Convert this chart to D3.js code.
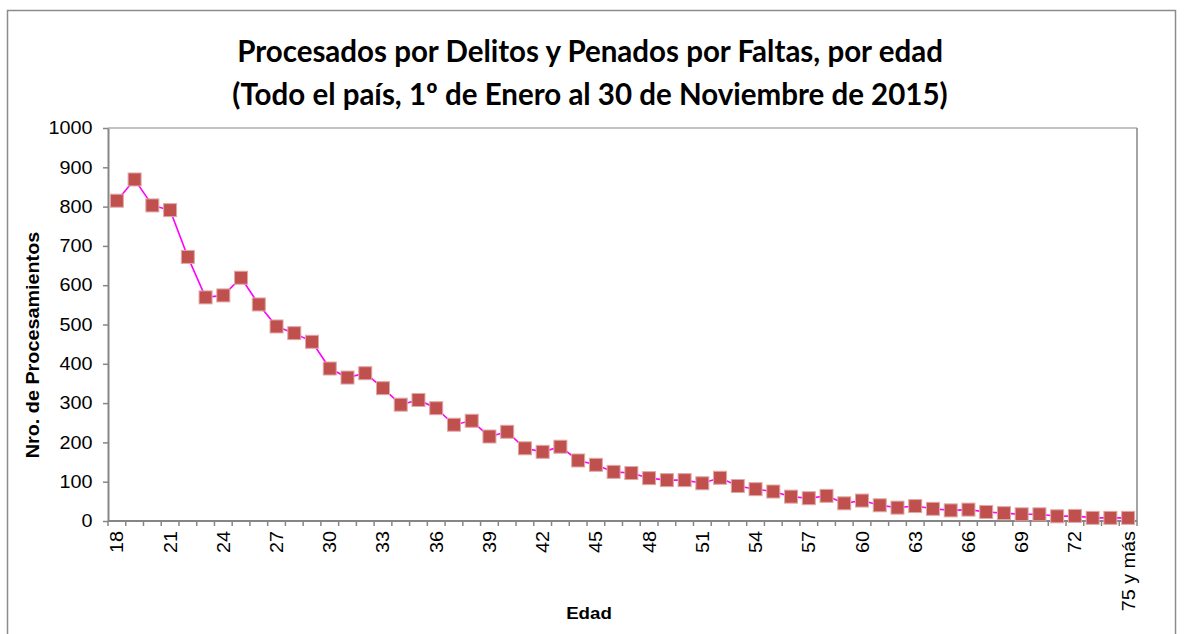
<!DOCTYPE html>
<html>
<head>
<meta charset="utf-8">
<script src="https://cdn.jsdelivr.net/npm/d3@7"></script>
<style>
  body { margin: 0; background: #fff; }
  svg { display: block; }
</style>
</head>
<body>
<div id="chart"></div>
<script>
const edades = ["18","19","20","21","22","23","24","25","26","27","28","29","30","31","32","33","34","35","36","37","38","39","40","41","42","43","44","45","46","47","48","49","50","51","52","53","54","55","56","57","58","59","60","61","62","63","64","65","66","67","68","69","70","71","72","73","74","75 y más"];
const procesados = [815,869,803,791,672,569,574,619,551,495,478,456,388,365,376,338,296,308,287,245,255,215,227,185,176,189,154,143,125,122,109,104,104,96,110,89,81,75,62,58,64,45,52,40,34,38,31,27,29,23,20,17,17,12,13,8,8,8];
const yTicks = [0,100,200,300,400,500,600,700,800,900,1000];
const xLabels = ["18","21","24","27","30","33","36","39","42","45","48","51","54","57","60","63","66","69","72","75 y más"];

const width = 1185, height = 634;
const axisColor = "#868686";
const lineColor = "#ff00ff";
const markerColor = "#c0504d";
const labelFont = '"Liberation Sans", Arial, sans-serif';
const stretch = 1.1; // reference text is a bit wider than Arial

const svg = d3.select('#chart').append('svg')
  .attr('width', width)
  .attr('height', height);

// outer frame
svg.append('rect')
  .attr('x', 7.5).attr('y', 10.5)
  .attr('width', 1168).attr('height', 640)
  .attr('fill', 'none')
  .attr('stroke', '#8c8c8c')
  .attr('stroke-width', 1.5);

const x = d3.scaleBand()
  .domain(edades)
  .range([108, 1137])
  .padding(0);

const y = d3.scaleLinear()
  .domain([0, 1000])
  .range([521, 128]);

// title
const title = svg.append('text')
  .attr('text-anchor', 'middle')
  .attr('font-family', 'Lato, "Open Sans", sans-serif')
  .attr('font-weight', 'bold')
  .attr('font-size', 29.5)
  .attr('fill', '#000');
title.append('tspan').attr('x', 590).attr('y', 62)
  .text('Procesados por Delitos y Penados por Faltas, por edad');
title.append('tspan').attr('x', 590).attr('y', 105)
  .text('(Todo el país, 1º de Enero al 30 de Noviembre de 2015)');

// y axis
const yAxis = svg.append('g')
  .attr('transform', `translate(${x.range()[0]},0)`)
  .call(d3.axisLeft(y).tickValues(yTicks).tickFormat(d3.format('d'))
    .tickSize(5).tickPadding(0).tickSizeOuter(0));
yAxis.select('.domain').attr('stroke', axisColor).attr('stroke-width', 2);
yAxis.selectAll('.tick line').attr('stroke', axisColor).attr('stroke-width', 1.5);
yAxis.selectAll('.tick text')
  .attr('x', -14)
  .attr('transform', `scale(${stretch},1)`)
  .attr('font-family', labelFont)
  .attr('font-size', 18)
  .attr('fill', '#000');

// x axis line
const x0 = x.range()[0], x1 = x.range()[1];
svg.append('line')
  .attr('x1', x0).attr('x2', x1)
  .attr('y1', y(0)).attr('y2', y(0))
  .attr('stroke', axisColor).attr('stroke-width', 2);

// right and top edges of the plot
svg.append('line')
  .attr('x1', x1).attr('x2', x1)
  .attr('y1', y(1000)).attr('y2', y(0))
  .attr('stroke', axisColor).attr('stroke-width', 1.5);
svg.append('line')
  .attr('x1', x0).attr('x2', x1)
  .attr('y1', y(1000)).attr('y2', y(1000))
  .attr('stroke', axisColor).attr('stroke-width', 1);

// x ticks at band boundaries
const bounds = edades.map(d => x(d)).concat([x1]);
svg.append('g').selectAll('line')
  .data(bounds)
  .join('line')
  .attr('x1', d => d).attr('x2', d => d)
  .attr('y1', y(0)).attr('y2', y(0) + 5)
  .attr('stroke', axisColor).attr('stroke-width', 1.5);

// x labels
svg.append('g').selectAll('text')
  .data(xLabels)
  .join('text')
  .attr('transform', d => `translate(${x(d) + x.bandwidth() / 2 + 6.5},${y(0) + 10}) rotate(-90) scale(${stretch},1)`)
  .attr('text-anchor', 'end')
  .attr('font-family', labelFont)
  .attr('font-size', 18)
  .attr('fill', '#000')
  .text(d => d);

// axis titles
svg.append('text')
  .attr('transform', `translate(39,345) rotate(-90) scale(${stretch},1)`)
  .attr('text-anchor', 'middle')
  .attr('font-family', labelFont)
  .attr('font-weight', 'bold')
  .attr('font-size', 18)
  .text('Nro. de Procesamientos');

svg.append('text')
  .attr('transform', `translate(589,619) scale(${stretch},1)`)
  .attr('text-anchor', 'middle')
  .attr('font-family', labelFont)
  .attr('font-weight', 'bold')
  .attr('font-size', 17)
  .text('Edad');

// line
const line = d3.line()
  .x((d, i) => x(edades[i]) + x.bandwidth() / 2)
  .y(d => y(d));

svg.append('path')
  .datum(procesados)
  .attr('d', line)
  .attr('fill', 'none')
  .attr('stroke', lineColor)
  .attr('stroke-width', 1.6);

// markers
const ms = 13;
svg.append('g').selectAll('rect')
  .data(procesados)
  .join('rect')
  .attr('x', (d, i) => x(edades[i]) + x.bandwidth() / 2 - ms / 2)
  .attr('y', d => y(d) - ms / 2)
  .attr('width', ms).attr('height', ms)
  .attr('fill', markerColor)
  .attr('stroke', '#e0a8a6')
  .attr('stroke-width', 1);
</script>
</body>
</html>
